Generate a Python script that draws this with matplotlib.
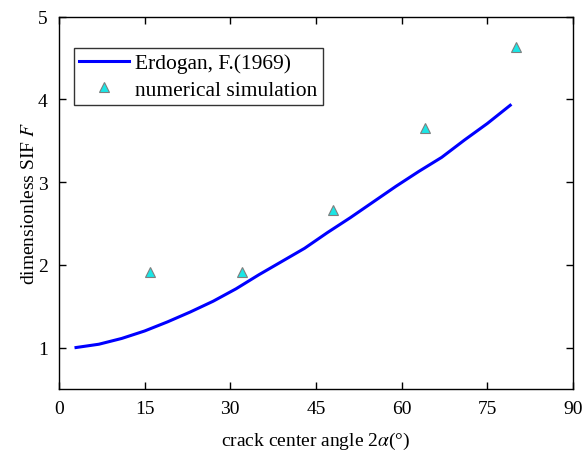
import numpy as np
import matplotlib
matplotlib.use('Agg')
import matplotlib.pyplot as plt

plt.rcParams['font.family'] = 'Liberation Serif'
plt.rcParams['mathtext.fontset'] = 'stix'

# Erdogan, F.(1969) curve
angle_theory = [3, 7, 11, 15, 19, 23, 27, 31, 35, 39, 43, 47, 51, 55, 59, 63, 67, 71, 75, 79]
F_theory = [1.00, 1.04, 1.11, 1.20, 1.31, 1.43, 1.56, 1.71, 1.88, 2.04,
            2.20, 2.39, 2.57, 2.76, 2.95, 3.13, 3.30, 3.51, 3.71, 3.93]

# numerical simulation
angle_sim = [16, 32, 48, 64, 80]
F_sim = [1.91, 1.91, 2.66, 3.65, 4.64]

xticks = [0, 15, 30, 45, 60, 75, 90]
yticks = [1, 2, 3, 4, 5]

fig = plt.figure(figsize=(5.83, 4.56), dpi=100)
ax = fig.add_axes([0.101, 0.145, 0.882, 0.816])

ax.plot(angle_theory, F_theory, color='#0000ff', lw=2.2, label='Erdogan, F.(1969)')
ax.plot(angle_sim, F_sim, ls='none', marker='^', ms=7.5, mfc='#1ae6e6',
        mec='#7f7f7f', mew=0.8, label='numerical simulation')

ax.set_xlim(0, 90)
ax.set_ylim(0.5, 5)
ax.set_xticks(xticks)
ax.set_yticks(yticks)
ax.tick_params(direction='in', top=True, right=True, labelsize=14, length=5, width=1, pad=8)
for s in ax.spines.values():
    s.set_linewidth(1)

ax.set_xlabel(r'crack center angle 2$\alpha$(°)', fontsize=14, labelpad=9)
ax.set_ylabel(r'dimensionless SIF $F$', fontsize=14, labelpad=0)

leg = ax.legend(loc='upper left', bbox_to_anchor=(0.029, 0.917), fontsize=15.5,
                frameon=True, fancybox=False, edgecolor='black',
                handlelength=2.3, borderpad=0.25, labelspacing=0.3, handletextpad=0.3,
                borderaxespad=0)
leg.get_frame().set_linewidth(1)

fig.savefig('out.png', dpi=100)
